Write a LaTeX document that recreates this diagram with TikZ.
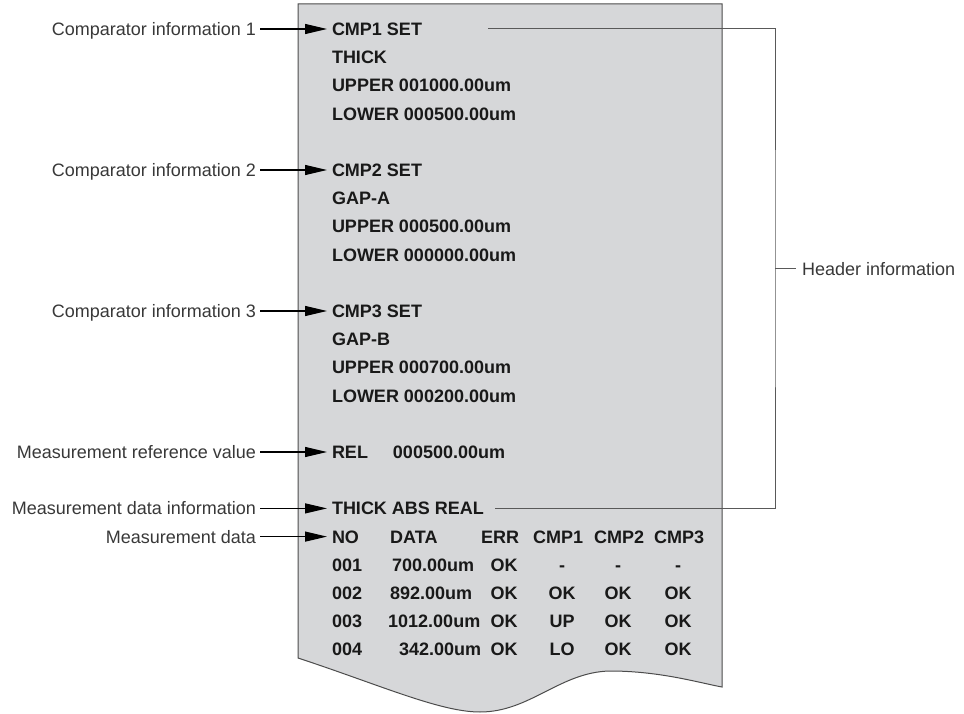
\documentclass[tikz,border=0pt]{standalone}
\usepackage{fontspec}
\setmainfont{Liberation Sans}
\usetikzlibrary{arrows.meta}
\definecolor{paper}{HTML}{D6D7D9}
\tikzset{
  prt/.style={anchor=west,inner sep=0pt,outer sep=5pt,font=\fontsize{18}{20}\selectfont\bfseries,text=black!90,text height=13pt,text depth=0pt},
  cell/.style={inner sep=0pt,font=\fontsize{18}{20}\selectfont\bfseries,text=black!90,text height=13pt,text depth=0pt},
  lbl/.style={anchor=east,inner sep=0pt,outer sep=4pt,font=\fontsize{18}{20}\selectfont,text=black!78,text height=13pt,text depth=0pt},
  ptr/.style={-{Triangle[length=22pt,width=10pt]},line width=1.2pt},
  brk/.style={draw=black!65,line width=1pt}
}
\begin{document}
\begin{tikzpicture}[x=1pt,y=-1pt]
\useasboundingbox (0,0) rectangle (964,714);
\draw[draw=black!70,fill=paper,line width=1pt] (298,4) -- (722,4) -- (722,687)
  .. controls (700,683) and (660,671) .. (610,671)
  .. controls (560,672) and (530,712) .. (480,712)
  .. controls (440,712) and (380,685) .. (298,658) -- cycle;
\foreach \k/\txt in {0/CMP1 SET,1/THICK,2/UPPER 001000.00um,3/LOWER 000500.00um,
  5/CMP2 SET,6/GAP-A,7/UPPER 000500.00um,8/LOWER 000000.00um,
  10/CMP3 SET,11/GAP-B,12/UPPER 000700.00um,13/LOWER 000200.00um,
  15/REL\hspace{25pt}000500.00um,17/THICK ABS REAL,18/NO,19/001,20/002,21/003,22/004}
  \node[prt] (p\k) at (327,29+28.2*\k) {\txt};
\foreach \x/\txt [count=\i] in {390/DATA,481/ERR,533/CMP1,594/CMP2,654/CMP3}
  \node[cell,anchor=west] (h\i) at (\x,29+28.2*18) {\txt};
\foreach \k/\x/\txt in {19/392/700.00um,20/390/892.00um,21/388/1012.00um,22/399/342.00um}
  \node[cell,anchor=west] (d\k) at (\x,29+28.2*\k) {\txt};
\foreach \k/\a/\b/\c/\d in {19/OK/-/-/-,20/OK/OK/OK/OK,21/OK/UP/OK/OK,22/OK/LO/OK/OK} {
  \node[cell] (e\k) at (504,29+28.2*\k) {\a};
  \node[cell] (fa\k) at (562,29+28.2*\k) {\b};
  \node[cell] (fb\k) at (618,29+28.2*\k) {\c};
  \node[cell] (fc\k) at (678,29+28.2*\k) {\d};
}
\foreach \k/\txt in {0/Comparator information 1,5/Comparator information 2,10/Comparator information 3,
  15/Measurement reference value,17/Measurement data information,18/Measurement data} {
  \node[lbl] (l\k) at (260,29+28.2*\k) {\txt};
  \draw[ptr] (l\k.east) -- (p\k.west);
}
\coordinate (b1) at (488,29);
\coordinate (b2) at (495,29+28.2*17);
\coordinate (bx) at (775,268.7);
\node[lbl,anchor=west,outer sep=6pt] (hdr) at (796,268.7) {Header information};
\draw[brk] (b1) -| (bx) |- (b2);
\draw[brk] (bx) -- (hdr.west);
\end{tikzpicture}
\end{document}
